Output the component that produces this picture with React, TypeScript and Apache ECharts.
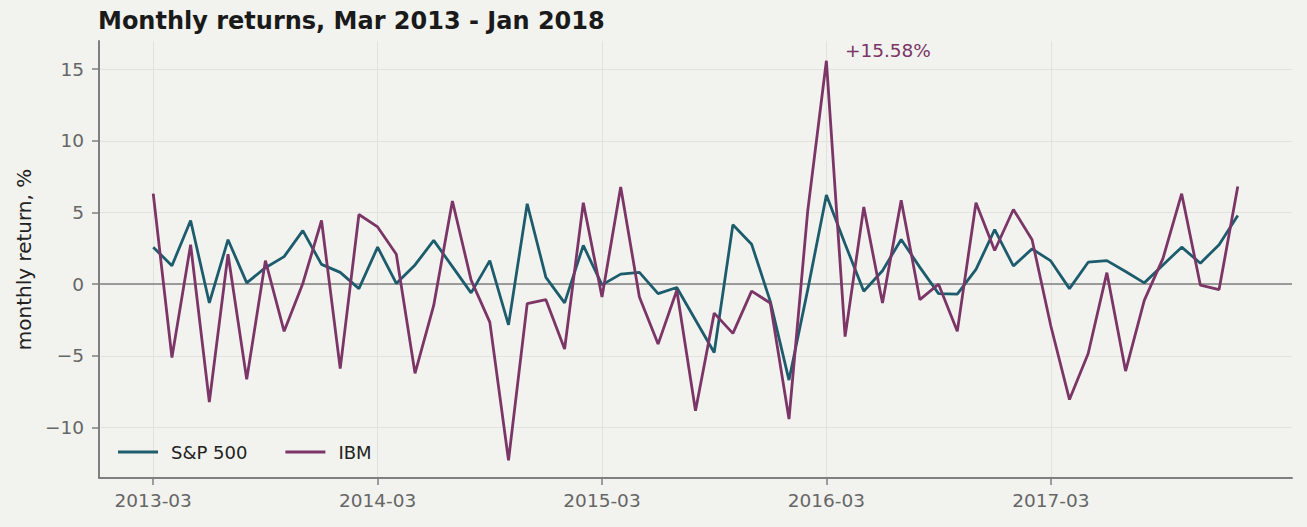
import React, { useEffect, useRef } from "react";
import * as echarts from "echarts";

const START_YEAR = 2013;
const START_MONTH = 3;
const months: string[] = [];
for (let i = 0; i < 59; i++) {
  const m = START_MONTH - 1 + i;
  const y = START_YEAR + Math.floor(m / 12);
  const mm = (m % 12) + 1;
  months.push(`${y}-${mm < 10 ? "0" + mm : mm}`);
}

const sp500: number[] = [
  2.58, 1.29, 4.44, -1.31, 3.1, 0.09, 1.15, 1.92, 3.73, 1.38, 0.82, -0.31,
  2.58, 0.05, 1.34, 3.05, 1.22, -0.61, 1.64, -2.84, 5.61, 0.47, -1.31, 2.7,
  -0.05, 0.7, 0.82, -0.66, -0.23, -2.5, -4.77, 4.15, 2.79, -1.2, -6.69, -0.4,
  6.22, 2.8, -0.49, 0.94, 3.12, 1.17, -0.66, -0.7, 1.03, 3.8, 1.27, 2.46,
  1.62, -0.31, 1.53, 1.64, 0.88, 0.09, 1.34, 2.58, 1.46, 2.75, 4.79,
];

const ibm: number[] = [
  6.31, -5.12, 2.75, -8.22, 2.09, -6.64, 1.64, -3.29, 0.05, 4.44, -5.89, 4.86,
  3.99, 2.09, -6.22, -1.48, 5.8, 0.28, -2.65, -12.28, -1.36, -1.08, -4.53, 5.68,
  -0.89, 6.78, -0.89, -4.18, -0.42, -8.83, -2.02, -3.43, -0.49, -1.31, -9.41, 5.09,
  15.58, -3.66, 5.38, -1.31, 5.85, -1.08, 0.0, -3.29, 5.68, 2.35, 5.21, 3.1,
  -2.9, -8.05, -4.84, 0.8, -6.06, -1.13, 1.8, 6.31, -0.07, -0.38, 6.81,
];

const xTicks: number[] = [0, 12, 24, 36, 48];
const yTicks: number[] = [-10, -5, 0, 5, 10, 15];
const PEAK_INDEX = 36;

const TEAL = "#1c5c6d";
const PURPLE = "#7b3567";
const FONT = "DejaVu Sans";

export default function App() {
  const ref = useRef<HTMLDivElement>(null);
  useEffect(() => {
    if (!ref.current) return;
    const chart = echarts.init(ref.current, null, { renderer: "svg" });
    const axisGray = "#7f7f7f";
    const gridGray = "#e2e2de";
    chart.setOption({
      animation: false,
      backgroundColor: "#f2f2ee",
      textStyle: { fontFamily: FONT },
      title: {
        text: "Monthly returns, Mar 2013 - Jan 2018",
        left: 93,
        top: 4,
        textStyle: { fontFamily: FONT, fontSize: 24, fontWeight: "bold", color: "#1a1a1a" },
      },
      grid: { left: 99, right: 15, top: 41, bottom: 49 },
      legend: {
        left: 113,
        top: 438,
        itemWidth: 40,
        itemHeight: 2.8,
        itemGap: 38,
        icon: "rect",
        textStyle: { fontFamily: FONT, fontSize: 18, color: "#222", padding: [0, 0, 0, 8] },
        data: ["S&P 500", "IBM"],
      },
      xAxis: {
        type: "value",
        min: -2.9,
        max: 60.9,
        axisLine: { show: true, onZero: false, lineStyle: { color: axisGray, width: 2 } },
        axisTick: { show: true, length: 7, customValues: xTicks, lineStyle: { color: axisGray, width: 1.5 } },
        axisLabel: {
          customValues: xTicks,
          formatter: (v: number) => months[Math.round(v)] ?? "",
          fontFamily: FONT,
          fontSize: 18.5,
          color: "#666",
          margin: 13,
        },
        splitLine: { show: true, lineStyle: { color: gridGray, width: 1 } },
      },
      yAxis: {
        type: "value",
        min: -13.52,
        max: 16.96,
        name: "monthly return, %",
        nameLocation: "middle",
        nameGap: 62,
        nameRotate: 90,
        nameTextStyle: { fontFamily: FONT, fontSize: 20, color: "#222" },
        axisLine: { show: true, onZero: false, lineStyle: { color: axisGray, width: 2 } },
        axisTick: { show: true, length: 7, customValues: yTicks, lineStyle: { color: axisGray, width: 1.5 } },
        axisLabel: {
          customValues: yTicks,
          formatter: (v: number) => (v < 0 ? "\u2212" + Math.abs(v) : String(v)),
          fontFamily: FONT,
          fontSize: 18.5,
          color: "#666",
          margin: 15,
        },
        splitLine: { show: true, lineStyle: { color: gridGray, width: 1 } },
      },
      series: [
        {
          name: "S&P 500",
          type: "line",
          data: sp500.map((v, i) => [i, v]),
          symbol: "none",
          lineStyle: { color: TEAL, width: 2.8 },
          itemStyle: { color: TEAL },
          z: 3,
          markLine: {
            silent: true,
            symbol: "none",
            label: { show: false },
            lineStyle: { color: axisGray, width: 1.6, type: "solid" },
            data: [{ yAxis: 0 }],
            z: 1,
          },
        },
        {
          name: "IBM",
          type: "line",
          data: ibm.map((v, i) => [i, v]),
          symbol: "none",
          lineStyle: { color: PURPLE, width: 2.8 },
          itemStyle: { color: PURPLE },
          z: 4,
          markPoint: {
            silent: true,
            symbol: "circle",
            symbolSize: 1,
            itemStyle: { color: "rgba(0,0,0,0)" },
            label: {
              show: true,
              position: "right",
              distance: 0,
              offset: [18, -10],
              formatter: (p: any) => `+${Number(p.value).toFixed(2)}%`,
              fontFamily: FONT,
              fontSize: 18.5,
              color: PURPLE,
            },
            data: [{ coord: [PEAK_INDEX, ibm[PEAK_INDEX]], value: ibm[PEAK_INDEX] }],
          },
        },
      ],
    });
    return () => chart.dispose();
  }, []);
  return (
    <div
      ref={ref}
      style={{ position: "fixed", left: 0, top: 0, width: 1307, height: 527 }}
    />
  );
}
